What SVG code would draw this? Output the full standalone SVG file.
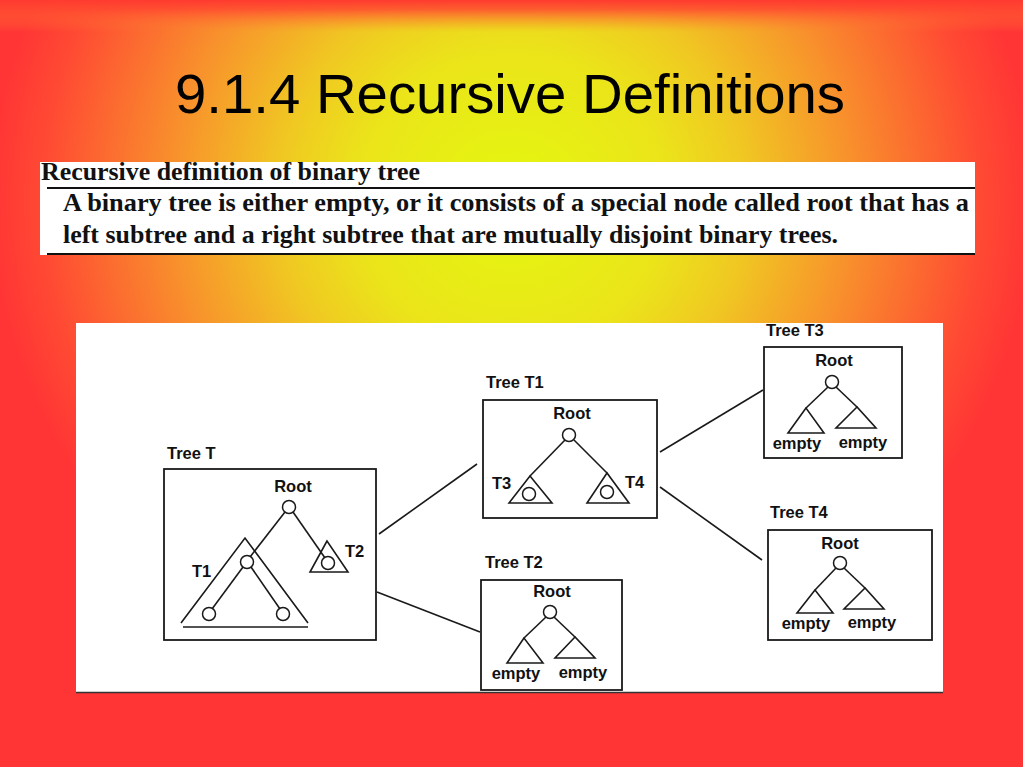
<svg xmlns="http://www.w3.org/2000/svg" width="1023" height="767" viewBox="0 0 1023 767">
<defs>
<radialGradient id="bg" cx="512" cy="200" r="520" gradientUnits="userSpaceOnUse" gradientTransform="translate(512 200) scale(1 0.96) translate(-512 -200)">
<stop offset="0" stop-color="#e4f80e"/>
<stop offset="0.3" stop-color="#ebe41a"/>
<stop offset="0.45" stop-color="#f0c822"/>
<stop offset="0.65" stop-color="#f8922c"/>
<stop offset="0.9" stop-color="#ff4a33"/>
<stop offset="1" stop-color="#ff3535"/>
</radialGradient>
<linearGradient id="topband" x1="0" y1="0" x2="0" y2="1">
<stop offset="0" stop-color="#ff3a30" stop-opacity="1"/>
<stop offset="0.3" stop-color="#ff4a30" stop-opacity="0.85"/>
<stop offset="1" stop-color="#ff8030" stop-opacity="0"/>
</linearGradient>
<style>
.ln{stroke:#1a1a1a;stroke-width:1.6;fill:none}
.box{stroke:#1a1a1a;stroke-width:1.8;fill:#fff}
.nd{stroke:#1a1a1a;stroke-width:1.5;fill:#fff}
.lbl{font-family:"Liberation Sans",Arial,sans-serif;font-weight:bold;font-size:16.5px;fill:#111}
.ctr{text-anchor:middle}
.ser{font-family:"Liberation Serif","Times New Roman",serif;font-weight:bold;fill:#111}
</style>
</defs>
<rect x="0" y="0" width="1023" height="767" fill="url(#bg)"/>
<rect x="0" y="0" width="1023" height="32" fill="url(#topband)"/>

<text x="175" y="113" font-family="Liberation Sans,Arial,sans-serif" font-size="56" fill="#000" textLength="670" lengthAdjust="spacingAndGlyphs">9.1.4 Recursive Definitions</text>

<g id="definition">
<rect x="40" y="162" width="935" height="93" fill="#fff"/>
<text class="ser" x="41" y="180" font-size="25" textLength="379" lengthAdjust="spacingAndGlyphs">Recursive definition of binary tree</text>
<line x1="47" y1="188" x2="975" y2="188" stroke="#111" stroke-width="2"/>
<text class="ser" x="63" y="211" font-size="25" textLength="906" lengthAdjust="spacingAndGlyphs">A binary tree is either empty, or it consists of a special node called root that has a</text>
<text class="ser" x="63" y="243" font-size="25" textLength="775" lengthAdjust="spacingAndGlyphs">left subtree and a right subtree that are mutually disjoint binary trees.</text>
<line x1="47" y1="254" x2="975" y2="254" stroke="#111" stroke-width="2"/>
</g>

<g id="panel">
<rect x="76" y="323" width="867" height="370" fill="#fff"/>
<line x1="76" y1="692.5" x2="943" y2="692.5" stroke="#333" stroke-width="1.5"/>
</g>

<g id="connectors">
<line class="ln" x1="379" y1="534" x2="477" y2="464"/>
<line class="ln" x1="377" y1="592" x2="480" y2="632"/>
<line class="ln" x1="660" y1="452" x2="763" y2="390"/>
<line class="ln" x1="660" y1="487" x2="762" y2="560"/>
</g>

<g id="treeT">
<text class="lbl" x="167" y="459">Tree T</text>
<rect class="box" x="164" y="469" width="212" height="171"/>
<text class="lbl ctr" x="293" y="492">Root</text>
<line class="ln" x1="285" y1="512" x2="250" y2="557"/>
<line class="ln" x1="293" y1="512" x2="325" y2="558"/>
<polyline class="ln" points="181,623 245,538 308,623"/>
<line class="ln" x1="183" y1="627" x2="308" y2="627"/>
<line class="ln" x1="243" y1="567" x2="212" y2="609"/>
<line class="ln" x1="251" y1="567" x2="280" y2="609"/>
<polygon class="ln" points="327,541 310,572 348,572"/>
<circle class="nd" cx="289" cy="507" r="6.5"/>
<circle class="nd" cx="247" cy="562" r="6.5"/>
<circle class="nd" cx="209" cy="614" r="6.5"/>
<circle class="nd" cx="283" cy="614" r="6.5"/>
<circle class="nd" cx="328" cy="563" r="6.5"/>
<text class="lbl" x="192" y="577">T1</text>
<text class="lbl" x="345" y="557">T2</text>
</g>

<g id="treeT1">
<text class="lbl" x="486" y="388">Tree T1</text>
<rect class="box" x="483" y="400" width="174" height="118"/>
<text class="lbl ctr" x="572" y="419">Root</text>
<line class="ln" x1="565" y1="440" x2="530" y2="476"/>
<line class="ln" x1="574" y1="440" x2="607" y2="473"/>
<polygon class="ln" points="530,476 509,503 552,503"/>
<polygon class="ln" points="607,473 587,503 629,503"/>
<circle class="nd" cx="569" cy="435" r="6.5"/>
<circle class="nd" cx="529" cy="494" r="6.5"/>
<circle class="nd" cx="607" cy="492" r="6.5"/>
<text class="lbl" x="492" y="489">T3</text>
<text class="lbl" x="625" y="488">T4</text>
</g>

<g id="treeT2">
<text class="lbl" x="485" y="568">Tree T2</text>
<rect class="box" x="481" y="580" width="141" height="110"/>
<text class="lbl ctr" x="552" y="597">Root</text>
<line class="ln" x1="546" y1="617" x2="524" y2="638"/>
<line class="ln" x1="554" y1="617" x2="575" y2="637"/>
<polygon class="ln" points="524,638 507,663 543,663"/>
<polygon class="ln" points="575,637 555,658 595,658"/>
<circle class="nd" cx="550" cy="612" r="6.5"/>
<text class="lbl ctr" x="516" y="679">empty</text>
<text class="lbl ctr" x="583" y="678">empty</text>
</g>

<g id="treeT3">
<text class="lbl" x="766" y="336">Tree T3</text>
<rect class="box" x="764" y="347" width="138" height="111"/>
<text class="lbl ctr" x="834" y="366">Root</text>
<line class="ln" x1="828" y1="387" x2="806" y2="408"/>
<line class="ln" x1="836" y1="387" x2="857" y2="407"/>
<polygon class="ln" points="806,408 788,433 824,433"/>
<polygon class="ln" points="857,407 836,428 876,428"/>
<circle class="nd" cx="832" cy="382" r="6.5"/>
<text class="lbl ctr" x="797" y="449">empty</text>
<text class="lbl ctr" x="863" y="448">empty</text>
</g>

<g id="treeT4">
<text class="lbl" x="770" y="518">Tree T4</text>
<rect class="box" x="768" y="530" width="164" height="110"/>
<text class="lbl ctr" x="840" y="549">Root</text>
<line class="ln" x1="836" y1="568" x2="815" y2="590"/>
<line class="ln" x1="844" y1="568" x2="865" y2="588"/>
<polygon class="ln" points="815,590 797,613 833,613"/>
<polygon class="ln" points="865,588 844,609 884,609"/>
<circle class="nd" cx="840" cy="563" r="6.5"/>
<text class="lbl ctr" x="806" y="629">empty</text>
<text class="lbl ctr" x="872" y="628">empty</text>
</g>
</svg>
